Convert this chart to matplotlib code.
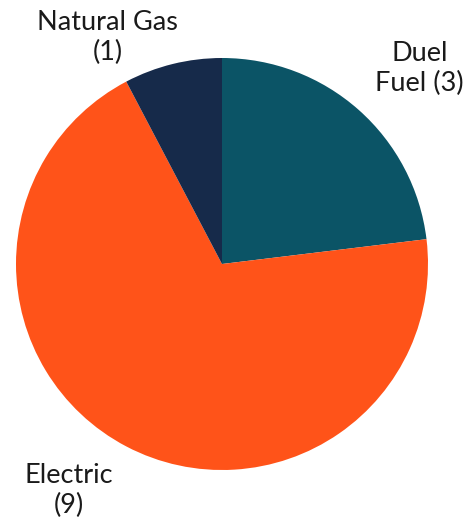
import matplotlib
matplotlib.use("Agg")
import matplotlib.pyplot as plt

categories = ["Duel Fuel", "Electric", "Natural Gas"]
values = [3, 9, 1]
colors = ["#0b5466", "#ff5319", "#162a4a"]
label_texts = ["Duel\nFuel (3)", "Electric\n(9)", "Natural Gas\n(1)"]
label_pos = [(0.96, 0.95), (-0.745, -1.10), (-0.555, 1.10)]

W, H = 469, 527
fig = plt.figure(figsize=(W / 100, H / 100), dpi=100)
cx, cy, r = 222, 264, 206
ax = fig.add_axes([(cx - r) / W, (H - cy - r) / H, 2 * r / W, 2 * r / H])
ax.pie(values, colors=colors, startangle=90, counterclock=False, radius=1,
       wedgeprops=dict(linewidth=0))
ax.set_xlim(-1, 1)
ax.set_ylim(-1, 1)
ax.set_aspect("equal")
ax.axis("off")

for txt, (x, y) in zip(label_texts, label_pos):
    ax.text(x, y, txt, ha="center", va="center", fontsize=19.5, family="Lato",
            fontweight="normal", color="#1a1a1a", linespacing=1.25, clip_on=False)

fig.savefig("out.png", dpi=100)
